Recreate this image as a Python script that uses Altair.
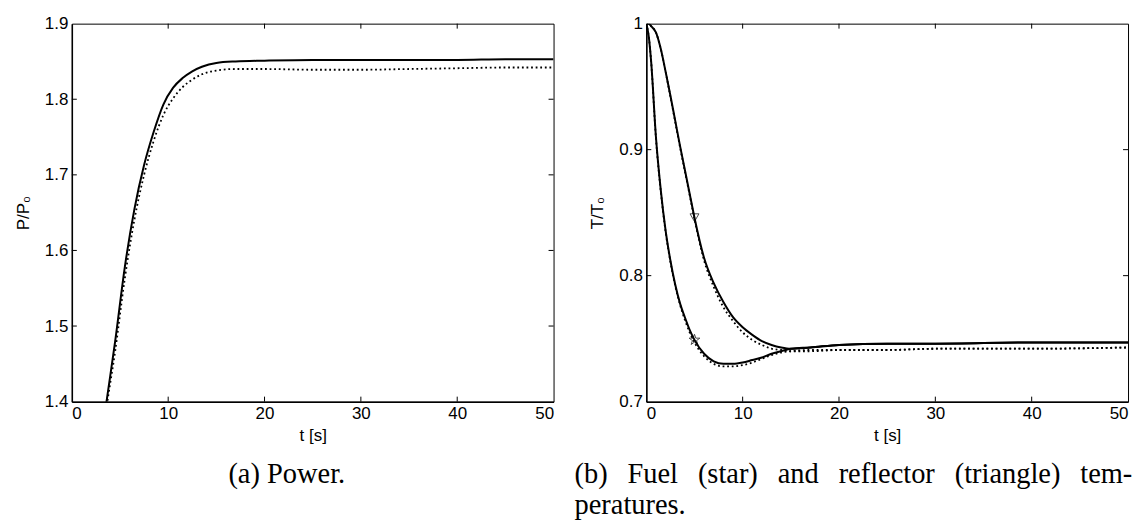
import altair as alt
import pandas as pd

# ---------------- data ----------------
t_power = [3.0, 3.6, 4.5, 5.5, 6.5, 7.5, 8.5, 9.5, 10.5, 11.5, 12.5, 13.5, 15, 17, 20, 25, 30, 35, 40, 45, 50]
p_solid = [1.345, 1.400, 1.480, 1.578, 1.655, 1.713, 1.757, 1.793, 1.815, 1.828, 1.837, 1.843, 1.848, 1.850,
           1.851, 1.852, 1.852, 1.852, 1.852, 1.853, 1.853]
p_dotted = [1.335, 1.392, 1.467, 1.563, 1.641, 1.700, 1.745, 1.779, 1.801, 1.816, 1.826, 1.833, 1.838, 1.840,
            1.840, 1.839, 1.839, 1.840, 1.841, 1.842, 1.842]

t_temp = [0, 0.25, 0.5, 1, 1.5, 2, 2.5, 3, 3.5, 4, 4.5, 5, 6, 7, 8, 9, 10, 11, 12, 13, 14, 15, 17, 20, 25, 30, 40, 50]
fuel_solid = [1.000, 0.990, 0.970, 0.910, 0.868, 0.836, 0.812, 0.793, 0.778, 0.767, 0.757, 0.749, 0.738, 0.732,
              0.730, 0.730, 0.731, 0.733, 0.735, 0.738, 0.740, 0.742, 0.743, 0.745, 0.746, 0.746, 0.747, 0.747]
fuel_dotted = [1.000, 0.990, 0.970, 0.909, 0.867, 0.835, 0.811, 0.792, 0.777, 0.765, 0.755, 0.747, 0.736, 0.730,
               0.728, 0.728, 0.729, 0.731, 0.734, 0.737, 0.739, 0.740, 0.741, 0.741, 0.741, 0.742, 0.742, 0.743]
refl_solid = [1.000, 1.000, 0.998, 0.993, 0.980, 0.962, 0.943, 0.923, 0.903, 0.884, 0.865, 0.846, 0.814, 0.794,
              0.779, 0.767, 0.759, 0.753, 0.748, 0.745, 0.743, 0.742, 0.743, 0.745, 0.746, 0.746, 0.747, 0.747]
refl_dotted = [1.000, 1.000, 0.998, 0.993, 0.980, 0.962, 0.942, 0.922, 0.902, 0.883, 0.864, 0.845, 0.812, 0.791,
               0.775, 0.764, 0.755, 0.749, 0.745, 0.742, 0.741, 0.740, 0.740, 0.741, 0.741, 0.742, 0.742, 0.743]

marker_t = [5, 5]
marker_v = [0.749, 0.846]
marker_name = ["fuel (star)", "reflector (triangle)"]

x_ticks = [0, 10, 20, 30, 40, 50]
p_ticks = [1.4, 1.5, 1.6, 1.7, 1.8, 1.9]
T_ticks = [0.7, 0.8, 0.9, 1.0]

caption_a = "(a) Power."
caption_b_words = ["(b)", "Fuel", "(star)", "and", "reflector", "(triangle)", "tem-"]
caption_b_line2 = "peratures."

STAR = ("M0,-1L0.2245,-0.309L0.951,-0.309L0.363,0.118L0.588,0.809L0,0.382"
        "L-0.588,0.809L-0.363,0.118L-0.951,-0.309L-0.2245,-0.309Z")

W, H = 483, 379
TICK = 5
SANS = "Liberation Sans"
SERIF = "Liberation Serif"
JUSTIFY_SPACE = "\u2002\u2009"  # wider word gap, imitating the justified LaTeX line

# ---------------- tables ----------------
power_df = pd.concat([
    pd.DataFrame({"t": t_power, "v": p_solid, "series": "P", "style": "solid"}),
    pd.DataFrame({"t": t_power, "v": p_dotted, "series": "P", "style": "dotted"}),
])
temp_df = pd.concat([
    pd.DataFrame({"t": t_temp, "v": fuel_solid, "series": "fuel", "style": "solid"}),
    pd.DataFrame({"t": t_temp, "v": fuel_dotted, "series": "fuel", "style": "dotted"}),
    pd.DataFrame({"t": t_temp, "v": refl_solid, "series": "refl", "style": "solid"}),
    pd.DataFrame({"t": t_temp, "v": refl_dotted, "series": "refl", "style": "dotted"}),
])
marker_df = pd.DataFrame({"t": marker_t, "v": marker_v, "name": marker_name})


def panel(df, ydomain, yticks, yfmt, ytitle, caption, anchor, cap_dx, markers=None):
    X = alt.X("t:Q", scale=alt.Scale(domain=[0, 50], nice=False),
              axis=alt.Axis(values=x_ticks, format="d", title="t [s]", titlePadding=6, labelPadding=4))
    Y = alt.Y("v:Q", scale=alt.Scale(domain=ydomain, nice=False, zero=False),
              axis=alt.Axis(values=yticks, format=yfmt, title=ytitle, titlePadding=12, labelPadding=4))
    base = alt.Chart(df)
    solid = base.transform_filter(alt.datum.style == "solid").mark_line(
        color="black", strokeWidth=2, interpolate="monotone", clip=True
    ).encode(x=X, y=Y, detail="series:N")
    dotted = base.transform_filter(alt.datum.style == "dotted").mark_line(
        color="black", strokeWidth=1.8, strokeDash=[1.8, 2.8], interpolate="monotone", clip=True
    ).encode(x=X, y=Y, detail="series:N")

    xt = pd.DataFrame({"t": x_ticks[1:-1]})
    yt = pd.DataFrame({"v": yticks[1:-1]})
    tb = alt.Chart(xt).mark_rule(color="black", strokeWidth=1).encode(
        x=X, y=alt.value(H), y2=alt.value(H - TICK))
    tt = alt.Chart(xt).mark_rule(color="black", strokeWidth=1).encode(
        x=X, y=alt.value(0), y2=alt.value(TICK))
    tl = alt.Chart(yt).mark_rule(color="black", strokeWidth=1).encode(
        y=Y, x=alt.value(0), x2=alt.value(TICK))
    tr = alt.Chart(yt).mark_rule(color="black", strokeWidth=1).encode(
        y=Y, x=alt.value(W - TICK), x2=alt.value(W))
    layers = [solid, dotted, tb, tt, tl, tr]
    if markers is not None:
        star = alt.Chart(markers).transform_filter(alt.datum.name == "fuel (star)").mark_point(
            shape=STAR, filled=False, color="black", size=130, strokeWidth=1
        ).encode(x=X, y=Y)
        tri = alt.Chart(markers).transform_filter(alt.datum.name == "reflector (triangle)").mark_point(
            shape="triangle-down", filled=False, color="black", size=80, strokeWidth=1
        ).encode(x=X, y=Y)
        layers += [star, tri]
    return alt.layer(*layers).properties(
        width=W, height=H,
        title=alt.TitleParams(text=caption, orient="bottom", anchor=anchor, frame="group",
                              font=SERIF, fontSize=28.5, fontWeight="normal", color="black",
                              offset=17, dx=cap_dx, lineHeight=31),
    )


left = panel(power_df, [1.4, 1.9], p_ticks, ".1f", "P/P₀", caption_a, "middle", -26)
right = panel(temp_df, [0.7, 1.0], T_ticks, "~g", "T/T₀",
              [JUSTIFY_SPACE.join(caption_b_words), caption_b_line2], "start", -72,
              markers=marker_df)

chart = alt.hconcat(left, right, spacing=19).properties(
    background="white"
).configure_view(
    stroke="black", strokeWidth=1
).configure_axis(
    labelFont=SANS, labelFontSize=17, labelColor="black",
    titleFont=SANS, titleFontSize=17, titleFontWeight="normal", titleColor="black",
    ticks=False, grid=False, domain=True, domainColor="black", domainWidth=1.5,
)

chart.save("out.html", embed_options={"renderer": "svg", "actions": False})
